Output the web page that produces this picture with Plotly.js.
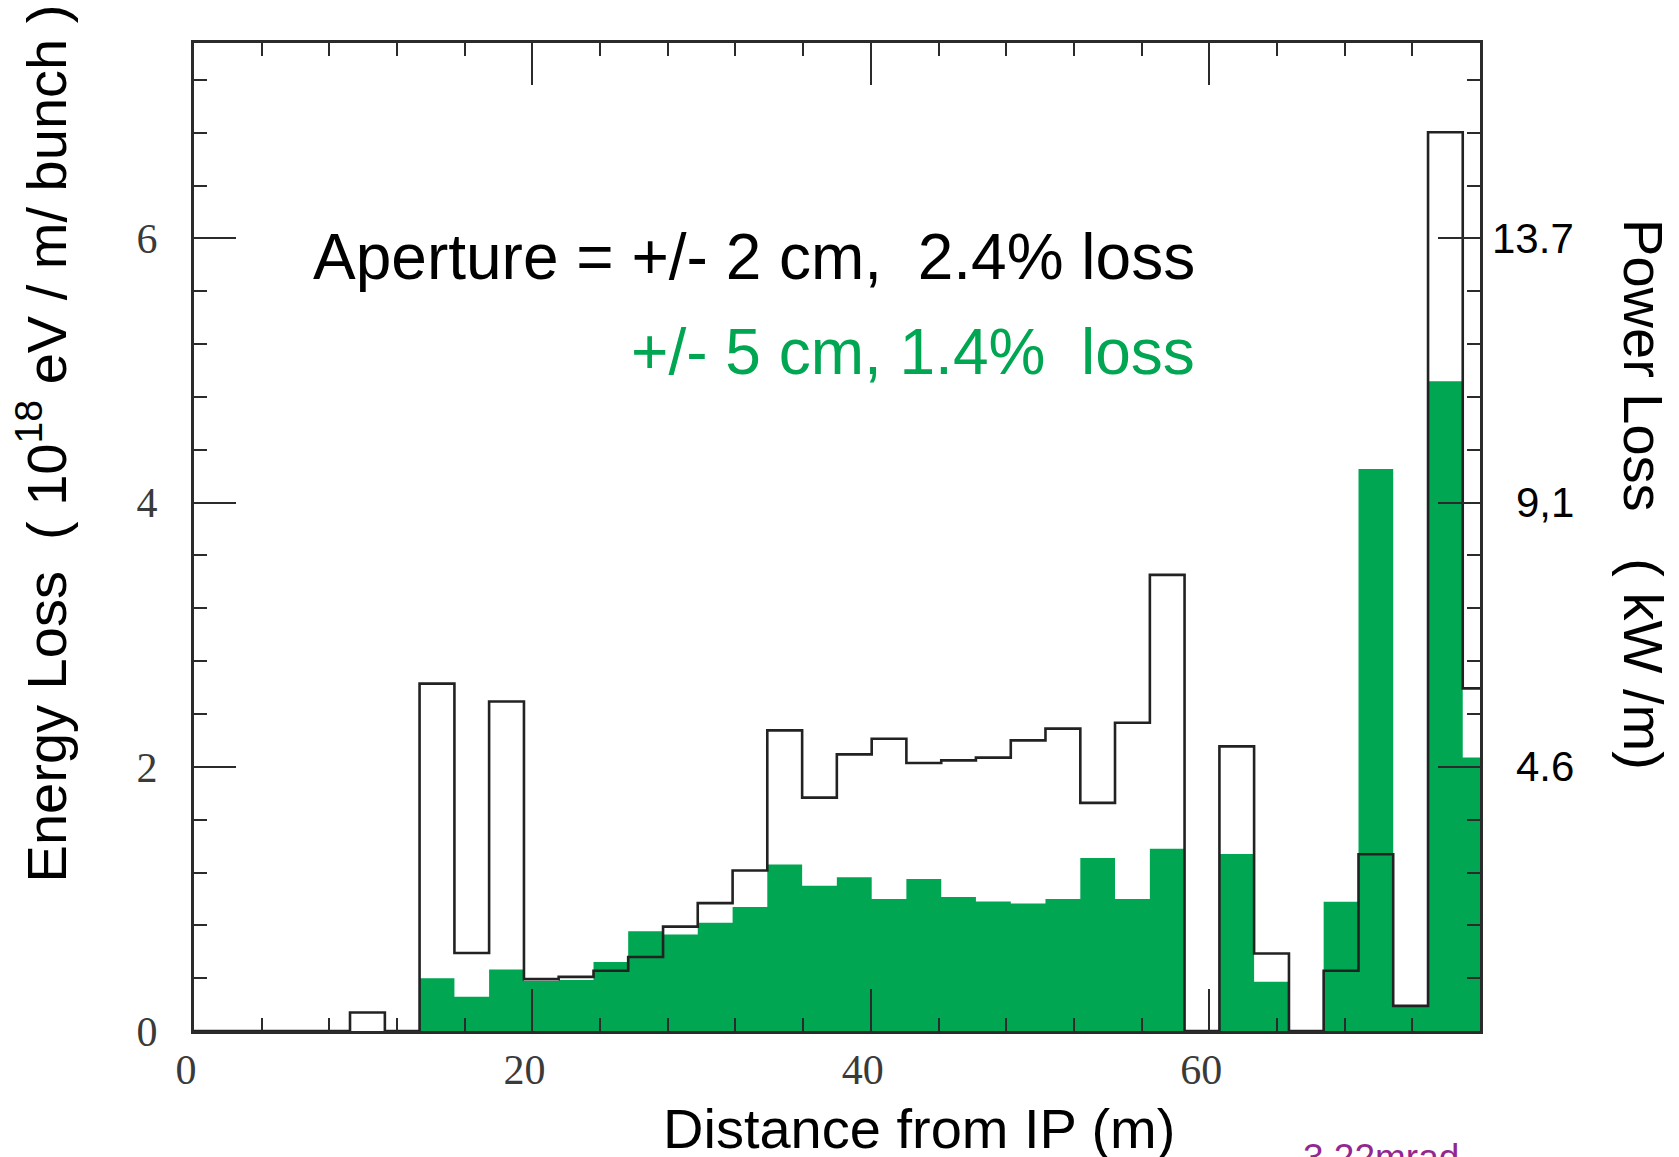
<!DOCTYPE html>
<html>
<head>
<meta charset="utf-8">
<script src="https://cdn.plot.ly/plotly-3.0.1.min.js"></script>
<style>
  html, body { margin: 0; padding: 0; background: #ffffff; }
  #chart { width: 1679px; height: 1157px; }
</style>
</head>
<body>
<div id="chart"></div>
<script>
// Bin edges along the beam line (m)
const binEdges = [0, 9.22, 11.28, 13.33, 15.39, 17.44, 19.5, 21.55, 23.61, 25.66, 27.72,
  29.77, 31.83, 33.88, 35.94, 37.99, 40.05, 42.1, 44.16, 46.21, 48.27, 50.32, 52.38,
  54.43, 56.49, 58.54, 60.6, 62.65, 64.71, 66.76, 68.82, 70.87, 72.93, 74.98, 76];

// Energy loss, aperture +/- 2 cm (black outline), 10^18 eV / m / bunch
const lossAperture2cm = [0, 0.14, 0, 2.63, 0.59, 2.495, 0.393, 0.41, 0.456, 0.56, 0.79,
  0.968, 1.215, 2.276, 1.767, 2.094, 2.213, 2.029, 2.049, 2.07, 2.2, 2.289, 1.727,
  2.334, 3.453, 0, 2.155, 0.587, 0, 0.456, 1.338, 0.19, 6.804, 2.594];

// Energy loss, aperture +/- 5 cm (green fill)
const lossAperture5cm = [0, 0, 0, 0.40, 0.26, 0.466, 0.378, 0.386, 0.522, 0.755, 0.73,
  0.82, 0.938, 1.26, 1.10, 1.164, 1.0, 1.15, 1.015, 0.98, 0.965, 1.0, 1.31,
  1.0, 1.38, 0, 1.34, 0.373, 0, 0.978, 4.255, 0.19, 4.92, 2.07];

// Axis ticks
const xTickVals = [0, 20, 40, 60];
const yTickVals = [0, 2, 4, 6];
const powerTickVals = [2, 4, 6];
const powerTickText = ["4.6", "9,1", "13.7"];

function stepXY(edges, vals) {
  return { x: edges.slice(), y: vals.concat([vals[vals.length - 1]]) };
}

const g = stepXY(binEdges, lossAperture5cm);
const b = stepXY(binEdges, lossAperture2cm);

const GREEN = '#00a651';
const AX = '#2b2b2b';
const SANS = 'Liberation Sans, Arial, Helvetica, sans-serif';
const SERIF = 'Liberation Serif, Times New Roman, serif';
const NB = '\u00A0';

const traces = [
  {
    type: 'scatter', mode: 'lines', x: g.x, y: g.y,
    line: { shape: 'hv', width: 0, color: GREEN },
    fill: 'tozeroy', fillcolor: GREEN,
    hoverinfo: 'skip', showlegend: false, name: '+/- 5 cm'
  },
  {
    type: 'scatter', mode: 'lines', x: b.x, y: b.y,
    line: { shape: 'hv', width: 2.6, color: '#222222' },
    hoverinfo: 'skip', showlegend: false, name: '+/- 2 cm'
  }
];

const annotations = [
  {
    text: 'Aperture = +/- 2 cm,' + NB + NB + '2.4% loss',
    xref: 'x', yref: 'y', x: 59.25, y: 5.86, xanchor: 'right', yanchor: 'middle',
    showarrow: false, font: { family: SANS, size: 64, color: '#000000' }
  },
  {
    text: '+/- 5 cm, 1.4%' + NB + NB + 'loss',
    xref: 'x', yref: 'y', x: 59.3, y: 5.14, xanchor: 'right', yanchor: 'middle',
    showarrow: false, font: { family: SANS, size: 64, color: GREEN }
  },
  {
    text: 'Distance from IP (m)',
    xref: 'paper', yref: 'paper', x: 0.5638, y: -0.099, xanchor: 'center', yanchor: 'middle',
    showarrow: false, font: { family: SANS, size: 56, color: '#000000' }
  },
  {
    text: 'Energy Loss' + NB + NB + '( 10<sup>18</sup> eV / m/ bunch )',
    xref: 'paper', yref: 'paper', x: -0.118, y: 0.595, xanchor: 'center', yanchor: 'middle',
    textangle: -90,
    showarrow: false, font: { family: SANS, size: 56, color: '#000000' }
  },
  {
    text: 'Power Loss' + NB + NB + NB + '( kW /m)',
    xref: 'paper', yref: 'paper', x: 1.1275, y: 0.5425, xanchor: 'center', yanchor: 'middle',
    textangle: 90,
    showarrow: false, font: { family: SANS, size: 56, color: '#000000' }
  },
  {
    text: '3.22mrad',
    xref: 'paper', yref: 'paper', x: (1301 - 194) / 1286, y: -0.105, xanchor: 'left', yanchor: 'top',
    showarrow: false, font: { family: SANS, size: 37, color: '#93278f' }
  }
];

powerTickVals.forEach(function (v, i) {
  annotations.push({
    text: powerTickText[i],
    xref: 'paper', yref: 'y', x: (1576 - 194) / 1286, y: v, xanchor: 'right', yanchor: 'middle',
    showarrow: false, font: { family: SANS, size: 42, color: '#000000' }
  });
});

const layout = {
  width: 1679, height: 1157,
  margin: { l: 194, r: 199, t: 43, b: 126 },
  paper_bgcolor: '#ffffff', plot_bgcolor: '#ffffff',
  showlegend: false,
  xaxis: {
    range: [0, 76], tickmode: 'array', tickvals: xTickVals,
    ticks: 'inside', ticklen: 42, tickwidth: 2, tickcolor: AX,
    minor: { tickmode: 'linear', tick0: 0, dtick: 4, ticks: 'inside', ticklen: 13, tickwidth: 2, tickcolor: AX },
    showline: true, linewidth: 3, linecolor: AX, mirror: 'ticks',
    showgrid: false, zeroline: false,
    tickfont: { family: SERIF, size: 42, color: '#3a3a3a' },
    ticklabelstandoff: 0, ticklabelshift: -8
  },
  yaxis: {
    range: [0, 7.48], tickmode: 'array', tickvals: yTickVals,
    ticks: 'inside', ticklen: 42, tickwidth: 2, tickcolor: AX,
    minor: { tickmode: 'linear', tick0: 0, dtick: 0.4, ticks: 'inside', ticklen: 13, tickwidth: 2, tickcolor: AX },
    showline: true, linewidth: 3, linecolor: AX, mirror: 'ticks',
    showgrid: false, zeroline: false,
    tickfont: { family: SERIF, size: 42, color: '#3a3a3a' },
    ticklabelstandoff: 25
  },
  annotations: annotations
};

Plotly.newPlot('chart', traces, layout, { staticPlot: true, displayModeBar: false });
</script>
</body>
</html>
